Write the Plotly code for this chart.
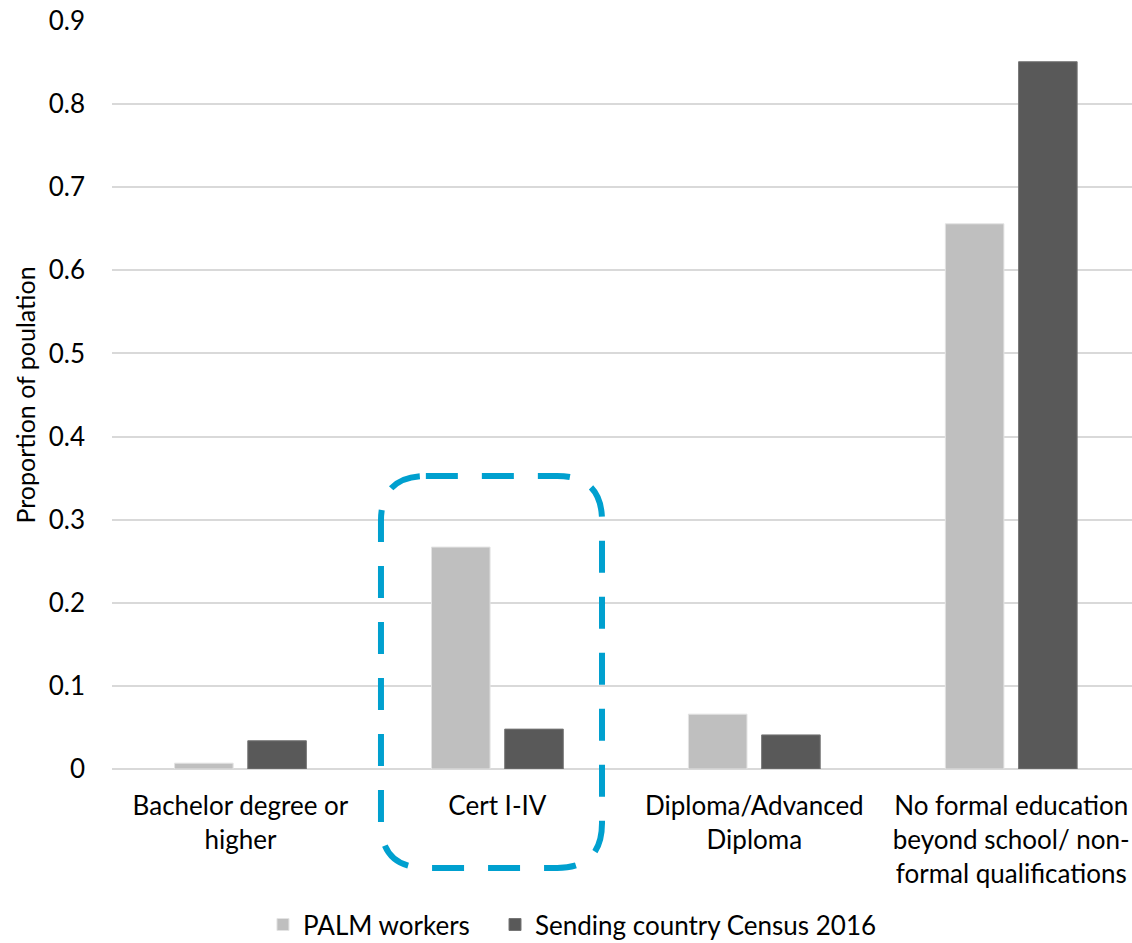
import plotly.graph_objects as go

categories = [
    "Bachelor degree or<br>higher",
    "Cert I-IV",
    "Diploma/Advanced<br>Diploma",
    "No formal education<br>beyond school/ non-<br>formal qualifications",
]
palm_workers = [0.007, 0.267, 0.066, 0.656]
census_2016 = [0.034, 0.048, 0.041, 0.851]
y_ticks = [0, 0.1, 0.2, 0.3, 0.4, 0.5, 0.6, 0.7, 0.8, 0.9]

FONT = "Lato, 'Open Sans', sans-serif"
FS = 26

fig = go.Figure()
fig.add_trace(go.Bar(
    x=categories, y=palm_workers, name="PALM workers", legend="legend",
    marker=dict(color="#BFBFBF", line=dict(color="#E3E3E3", width=1)),
))
fig.add_trace(go.Bar(
    x=categories, y=census_2016, name="Sending country Census 2016", legend="legend2",
    marker=dict(color="#595959", line=dict(color="#767676", width=1)),
))

# Rounded dashed highlight around the Cert I-IV group (paper coordinates)
x0, x1 = 0.2637, 0.4804
y0, y1 = -0.1322, 0.3918
rx, ry = 0.044, 0.060
path = (
    f"M {x0+rx},{y1} L {x1-rx},{y1} Q {x1},{y1} {x1},{y1-ry} "
    f"L {x1},{y0+ry} Q {x1},{y0} {x1-rx},{y0} "
    f"L {x0+rx},{y0} Q {x0},{y0} {x0},{y0+ry} "
    f"L {x0},{y1-ry} Q {x0},{y1} {x0+rx},{y1} Z"
)
fig.add_shape(
    type="path", path=path, xref="paper", yref="paper",
    line=dict(color="#00A0CF", width=6, dash="32px,24px"),
    layer="above",
)

legend_style = dict(
    orientation="h", xanchor="left", yref="container", y=0.0195, yanchor="middle",
    font=dict(size=FS, family=FONT), itemwidth=30, bgcolor="rgba(0,0,0,0)",
)

fig.update_layout(
    width=1132, height=943,
    margin=dict(l=112, r=0, t=21, b=174),
    plot_bgcolor="white", paper_bgcolor="white",
    font=dict(family=FONT, size=FS, color="#000000"),
    barmode="group", bargap=0.43, bargroupgap=0.2,
    showlegend=True,
    legend=dict(x=0.148, **legend_style),
    legend2=dict(x=0.3755, **legend_style),
    xaxis=dict(
        range=[-0.5, 3.47], showgrid=False, showline=False, ticks="",
        automargin=False,
        tickfont=dict(size=FS, family=FONT), ticklabelstandoff=19,
    ),
    yaxis=dict(
        range=[0, 0.9], tickvals=y_ticks, ticktext=[f"{v:g}" for v in y_ticks],
        automargin=False,
        showgrid=True, gridcolor="#D9D9D9", gridwidth=1.5,
        zeroline=True, zerolinecolor="#D9D9D9", zerolinewidth=2,
        showline=False, ticks="", ticklabelstandoff=26,
        tickfont=dict(size=FS, family=FONT),
        title=dict(text="Proportion of poulation", font=dict(size=25, family=FONT), standoff=5),
    ),
)

fig.write_html("out.html")
